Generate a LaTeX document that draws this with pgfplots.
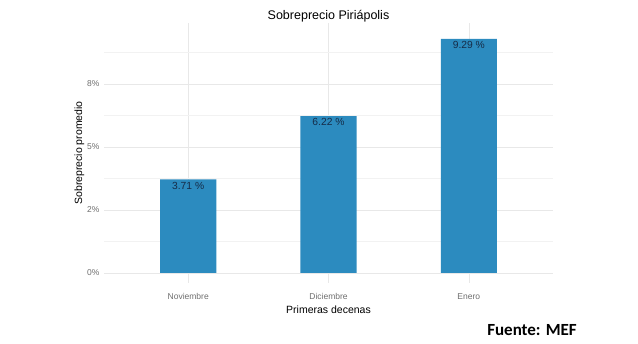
\documentclass[border=0pt]{standalone}
\usepackage{pgfplots}
\pgfplotsset{compat=1.18}
\usepackage{fontspec}
\setmainfont{Liberation Sans}
\newfontfamily\carlito{Carlito}
\definecolor{barblue}{RGB}{44,139,191}
\definecolor{labnavy}{RGB}{22,44,72}
\definecolor{gridmaj}{RGB}{232,232,232}
\definecolor{gridmin}{RGB}{242,242,242}
\definecolor{ticktext}{RGB}{110,110,110}
\begin{document}
\begin{tikzpicture}
\path[use as bounding box] (0,0) rectangle (638bp,344bp);
\begin{axis}[
  at={(104bp,61bp)}, anchor=south west,
  scale only axis, width=449bp, height=260bp,
  xmin=0.4, xmax=3.6, ymin=-0.4, ymax=9.92,
  ybar, bar width=0.4,
  xtick={1,2,3}, xticklabels={Noviembre,Diciembre,Enero},
  ytick={0,2.5,5,7.5}, yticklabels={0\%,2\%,5\%,8\%},
  minor ytick={1.25,3.75,6.25,8.75},
  grid=both,
  major grid style={gridmaj, line width=0.6bp},
  minor grid style={gridmin, line width=0.5bp},
  axis line style={draw=none},
  major tick length=0pt, minor tick length=0pt,
  tick style={draw=none},
  ticklabel style={font=\fontsize{8.5bp}{10bp}\selectfont, text=ticktext},
  xticklabel style={yshift=-7bp},
  yticklabel style={xshift=-1bp},
  title={Sobreprecio Piriápolis},
  title style={font=\fontsize{12.5bp}{14bp}\selectfont, at={(0.5,1)}, anchor=base, yshift=-2bp},
  xlabel={Primeras decenas},
  ylabel={Sobreprecio promedio},
  label style={font=\fontsize{10.5bp}{12bp}\selectfont},
  xlabel style={yshift=1bp},
  ylabel style={yshift=-4bp},
  point meta=explicit symbolic,
  nodes near coords,
  every node near coord/.append style={anchor=north, yshift=1bp, text=labnavy, font=\fontsize{10.3bp}{12bp}\selectfont},
]
\addplot[fill=barblue, draw=none] coordinates {(1,3.71) [3.71 \%] (2,6.22) [6.22 \%] (3,9.29) [9.29 \%]};
\end{axis}
\node[font=\carlito\bfseries\fontsize{17bp}{20bp}\selectfont, anchor=base] at (532bp,9bp) {Fuente: MEF};
\end{tikzpicture}
\end{document}
